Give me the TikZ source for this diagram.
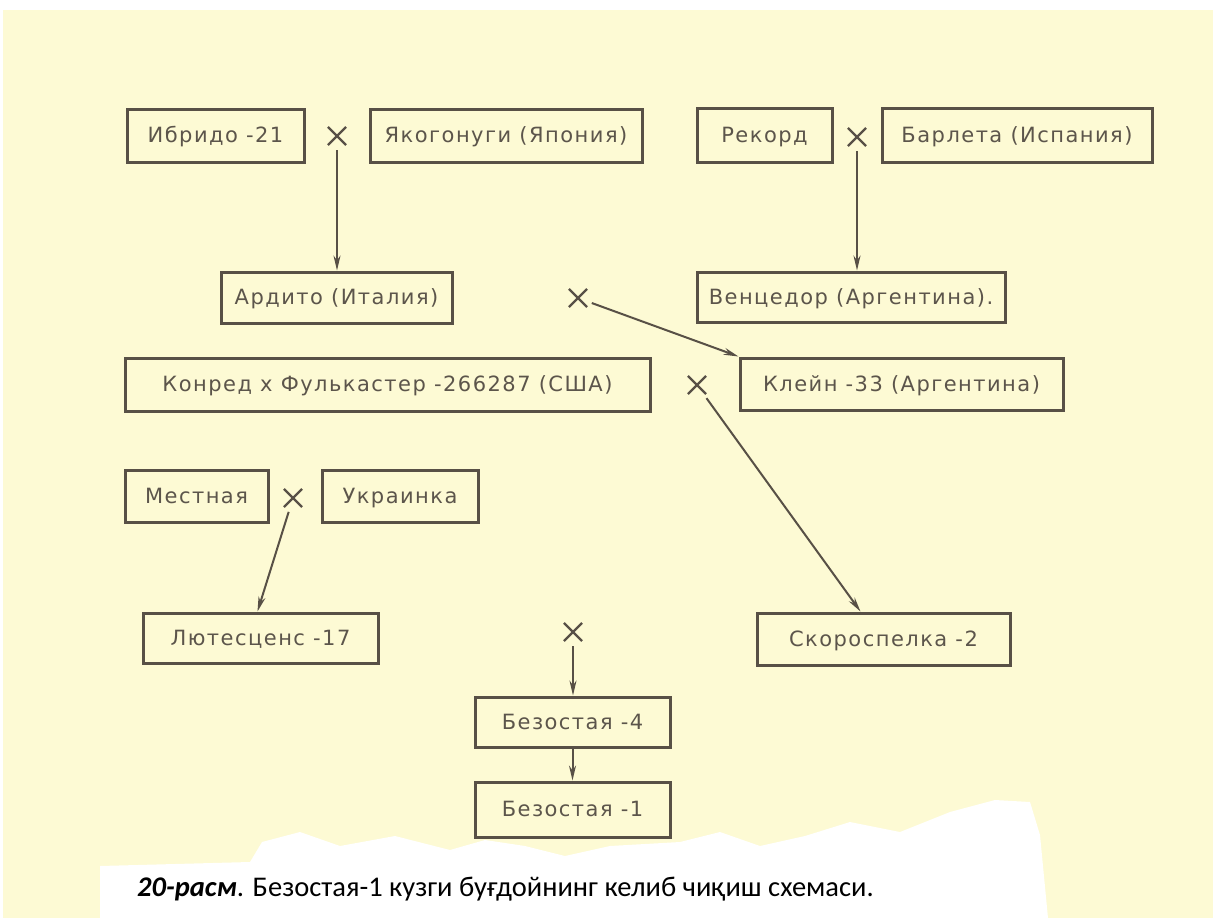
\documentclass[tikz,border=0pt]{standalone}
\usepackage{fontspec}
\setmainfont{Carlito}
\newfontfamily\boxfont[LetterSpace=7]{DejaVu Sans}
\usetikzlibrary{arrows.meta,shapes.misc,calc}
\definecolor{paper}{RGB}{253,250,212}
\definecolor{ink}{RGB}{88,80,70}
\definecolor{txt}{RGB}{92,85,75}
\begin{document}
\begin{tikzpicture}[x=1pt,y=-1pt,
  box/.style={draw=ink, line width=3pt, text=txt,
    font=\boxfont\fontsize{21}{24}\selectfont, inner sep=0pt,
    text height=17pt, text depth=3pt,
    minimum height=52pt, anchor=center},
  crossmark/.style={cross out, draw=ink, line width=2.2pt, minimum size=16pt, inner sep=0pt},
  arr/.style={draw=ink, line width=2pt, -{Stealth[length=15pt,width=7pt]}, shorten <=5pt}]
\useasboundingbox (0,0) rectangle (1213,918);
% paper
\fill[white] (0,0) rectangle (1213,918);
\fill[paper] (3,10) rectangle (1213,918);
% white blotch behind caption
\fill[white] (100,918) -- (100,866) -- (250,862) -- (262,842) -- (300,832) -- (340,846)
  -- (395,836) -- (450,850) -- (485,840) -- (525,846) -- (565,856) -- (610,846)
  -- (680,842) -- (720,832) -- (760,846) -- (805,836) -- (850,822) -- (900,832)
  -- (950,812) -- (995,800) -- (1030,802) -- (1040,835) -- (1048,918) -- cycle;

% boxes
\node[box, minimum width=177pt, minimum height=53pt] (ibr) at (215.5,135.5) {Ибридо -21};
\node[box, minimum width=272pt, minimum height=53pt] (yak) at (506,135.5) {Якогонуги (Япония)};
\node[box, minimum width=135pt, minimum height=54pt] (rek) at (764.5,135) {Рекорд};
\node[box, minimum width=270pt, minimum height=54pt] (bar) at (1017,135.5) {Барлета (Испания)};
\node[box, minimum width=231pt, minimum height=51pt] (ard) at (336.5,297.5) {Ардито (Италия)};
\node[box, minimum width=308pt, minimum height=50pt] (ven) at (851,297) {Венцедор (Аргентина).};
\node[box, minimum width=525pt, minimum height=53pt] (kon) at (387.5,384.5) {Конред х Фулькастер -266287 (США)};
\node[box, minimum width=323pt, minimum height=52pt] (kle) at (901.5,384) {Клейн -33 (Аргентина)};
\node[box, minimum width=143pt, minimum height=52pt] (mes) at (196.5,496) {Местная};
\node[box, minimum width=156pt, minimum height=52pt] (ukr) at (400,496) {Украинка};
\node[box, minimum width=235pt, minimum height=50pt] (lut) at (260.5,638) {Лютесценс -17};
\node[box, minimum width=253pt, minimum height=52pt] (sko) at (883.5,639) {Скороспелка -2};
\node[box, minimum width=195pt, minimum height=50pt] (bez4) at (572.5,722) {Безостая -4};
\node[box, minimum width=195pt, minimum height=55pt] (bez1) at (572.5,809.5) {Безостая -1};

% crosses
\node[crossmark] (x1) at (337,136) {};
\node[crossmark] (x2) at (857,137) {};
\node[crossmark] (x3) at (578,298) {};
\node[crossmark] (x4) at (697,385) {};
\node[crossmark] (x5) at (293,498) {};
\node[crossmark] (x6) at (573,632) {};

% connectors
\draw[arr] (x1) -- (x1 |- ard.north);
\draw[arr] (x2) -- (x2 |- ven.north);
\draw[arr] (x3) -- (kle.north west);
\draw[arr] (x4) -- ([xshift=-23pt]sko.north);
\draw[arr] (x5) -- ([xshift=-3pt]lut.north);
\draw[arr] (x6) -- (x6 |- bez4.north);
\draw[arr, shorten <=0pt] (bez4.south) -- (bez1.north);

% caption
\node[anchor=base west, font=\fontsize{28.5}{32}\selectfont, inner sep=0pt] (cap) at (137,896)
  {\textbf{\textit{20-расм}}. Безостая-1 кузги буғдойнинг келиб чиқиш схемаси.};
\end{tikzpicture}
\end{document}
